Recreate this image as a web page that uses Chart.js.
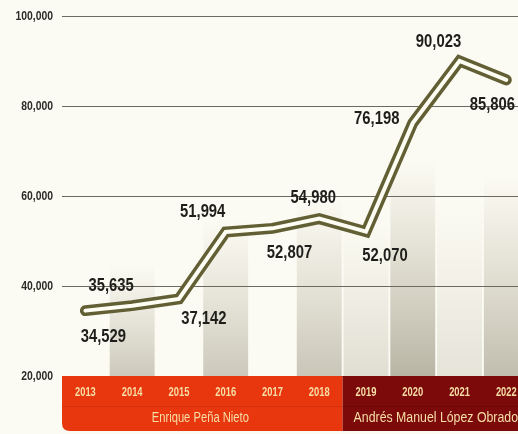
<!DOCTYPE html>
<html>
<head>
<meta charset="utf-8">
<script src="https://cdn.jsdelivr.net/npm/chart.js@4"></script>
<style>
  html, body { margin: 0; padding: 0; background: #fcfbf3; }
  #wrap { width: 518px; height: 434px; }
</style>
</head>
<body>
<div id="wrap"><canvas id="chart"></canvas></div>
<script>
const years = ['2013', '2014', '2015', '2016', '2017', '2018', '2019', '2020', '2021', '2022'];
const values = [34529, 35635, 37142, 51994, 52807, 54980, 52070, 76198, 90023, 85806];
const yTicks = [20000, 40000, 60000, 80000, 100000];
const presidents = ['Enrique Peña Nieto', 'Andrés Manuel López Obrador'];
// label offsets from the point (px)
const labelOffsets = [[18, 26], [-21, -20], [25, 20], [-23, -20], [17, 24], [-6, -21], [19, 24], [-36, -4], [-21, -19], [-14, 25]];
// shaded background columns: [index, top value, darkness]
const shadeCols = [[1, 45000, 0.34], [3, 55000, 0.34], [5, 60000, 0.36], [6, 55000, 0.2], [7, 68000, 0.48], [8, 60000, 0.16], [9, 65000, 0.42]];

const fmt = v => v.toLocaleString('en-US');
const sans = '"Liberation Sans", Arial, sans-serif';

// draw text squeezed horizontally (no narrow font available)
function narrowText(ctx, text, x, y, font, sx, align) {
    ctx.save();
    ctx.font = font;
    ctx.textAlign = align;
    ctx.textBaseline = 'middle';
    ctx.translate(x, y);
    ctx.scale(sx, 1);
    ctx.fillText(text, 0, 0);
    ctx.restore();
}

const decor = {
    id: 'decor',
    beforeDraw(chart) {
        const ctx = chart.ctx, x = chart.scales.x, y = chart.scales.y, a = chart.chartArea;
        ctx.save();
        ctx.fillStyle = '#fcfbf3';
        ctx.fillRect(0, 0, chart.width, chart.height);
        const step = x.getPixelForValue(1) - x.getPixelForValue(0);
        shadeCols.forEach(([i, top, dark]) => {
            const cx = x.getPixelForValue(i);
            const ty = y.getPixelForValue(top);
            const g = ctx.createLinearGradient(0, ty, 0, a.bottom);
            g.addColorStop(0, 'rgba(140,130,100,0)');
            g.addColorStop(1, 'rgba(110,105,80,' + dark + ')');
            ctx.fillStyle = g;
            ctx.fillRect(cx - step * 0.48, ty, step * 0.96, a.bottom - ty);
        });
        ctx.restore();
    },
    afterDraw(chart) {
        const ctx = chart.ctx, x = chart.scales.x, y = chart.scales.y, a = chart.chartArea;
        ctx.save();
        // red band
        const split = (x.getPixelForValue(5) + x.getPixelForValue(6)) / 2;
        const top = a.bottom, mid = a.bottom + 30, bot = a.bottom + 55;
        ctx.fillStyle = '#e8360f';
        ctx.beginPath();
        ctx.moveTo(a.left, top);
        ctx.lineTo(split, top);
        ctx.lineTo(split, bot);
        ctx.lineTo(a.left + 8, bot);
        ctx.quadraticCurveTo(a.left, bot, a.left, bot - 8);
        ctx.closePath();
        ctx.fill();
        ctx.fillStyle = '#7c0a0a';
        ctx.fillRect(split, top, chart.width - split, bot - top);
        ctx.fillStyle = 'rgba(0,0,0,0.08)';
        ctx.fillRect(a.left, mid, chart.width - a.left, 1);
        ctx.fillStyle = '#f6dfa6';
        narrowText(ctx, presidents[0], (a.left + split) / 2 - 2, (mid + bot) / 2, '14px ' + sans, 0.8, 'center');
        narrowText(ctx, presidents[1], split + 11, (mid + bot) / 2, '14px ' + sans, 0.88, 'left');
        years.forEach((yr, i) => {
            narrowText(ctx, yr, x.getPixelForValue(i), top + 16, 'bold 13px ' + sans, 0.72, 'center');
        });
        // y tick labels
        ctx.fillStyle = '#2c2c26';
        yTicks.forEach(v => {
            narrowText(ctx, fmt(v), a.left - 9, y.getPixelForValue(v), 'bold 13px ' + sans, 0.8, 'right');
        });
        ctx.restore();
    },
    afterDatasetsDraw(chart) {
        const ctx = chart.ctx, x = chart.scales.x, y = chart.scales.y;
        ctx.save();
        ctx.fillStyle = '#1e1e1a';
        values.forEach((v, i) => {
            const px = x.getPixelForValue(i) + labelOffsets[i][0];
            const py = y.getPixelForValue(v) + labelOffsets[i][1];
            narrowText(ctx, fmt(v), px, py, 'bold 19px ' + sans, 0.78, 'center');
        });
        ctx.restore();
    }
};

const points = values.map((v, i) => ({ x: i, y: v }));

new Chart(document.getElementById('chart'), {
    type: 'line',
    data: {
        datasets: [
            {
                data: points,
                borderColor: '#635f35',
                borderWidth: 11,
                borderCapStyle: 'round',
                borderJoinStyle: 'miter',
                pointRadius: 0,
                tension: 0,
                order: 2
            },
            {
                data: points,
                borderColor: '#fdfdf3',
                borderWidth: 4,
                borderCapStyle: 'round',
                borderJoinStyle: 'miter',
                pointRadius: 0,
                tension: 0,
                order: 1
            }
        ]
    },
    options: {
        responsive: true,
        maintainAspectRatio: false,
        animation: false,
        layout: { padding: { top: 16, left: 0, right: 0, bottom: 0 } },
        plugins: {
            legend: { display: false },
            tooltip: { enabled: false }
        },
        scales: {
            x: {
                type: 'linear',
                min: -0.5,
                max: 9.25,
                afterBuildTicks: s => { s.ticks = years.map((_, i) => ({ value: i })); },
                afterFit: s => { s.height = 58; },
                grid: { display: false },
                border: { display: false },
                ticks: { display: false }
            },
            y: {
                min: 20000,
                max: 100000,
                afterBuildTicks: s => { s.ticks = yTicks.map(v => ({ value: v })); },
                afterFit: s => { s.width = 62; },
                grid: { color: '#6a6a60', lineWidth: 1, drawTicks: false },
                border: { display: false },
                ticks: { display: false }
            }
        }
    },
    plugins: [decor]
});
</script>
</body>
</html>
